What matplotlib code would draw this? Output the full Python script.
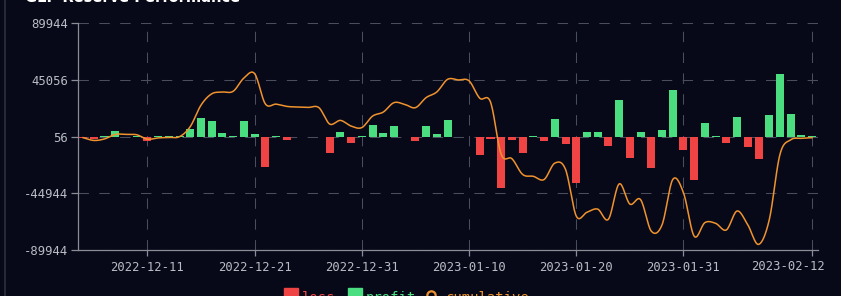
import numpy as np
import pandas as pd
import matplotlib
matplotlib.use('Agg')
import matplotlib.pyplot as plt
from matplotlib.lines import Line2D
from matplotlib.patches import Rectangle

# Fechas (falta un dia entre el 21 y el 30 de enero)
fechas = pd.date_range('2022-12-05', '2023-02-12').drop(pd.Timestamp('2023-01-25'))
fechas = [f.strftime('%Y-%m-%d') for f in fechas]

# Resultado diario (profit > 0, loss < 0)
resultado = [
    -800, -1600, 500, 4500, -400, 400, -3500, 600, 600, 600,
    6300, 15100, 12400, 3200, 300, 12100, 2100, -23800, 500, -2700,
    -500, -500, -400, -13200, 3600, -4800, 400, 9500, 2900, 8700,
    -500, -3500, 8700, 2100, 12900, -500, -500, -14600, -2100, -41000,
    -2700, -13200, 400, -3500, 14300, -5600, -37000, 3600, 3600, -7400,
    29000, -16700, 4000, -24900, 5000, 37000, -10600, -34400, 10600, 400,
    -4800, 15600, -8300, -18000, 16900, 49400, 17700, 1000, 600,
]

# Acumulado
acumulado = [
    -800, -3000, -1800, 1800, 1800, 1500, -2000, -1000, -600, 0,
    8000, 25000, 34000, 35400, 36000, 46500, 50000, 26000, 25800, 24000,
    23500, 23200, 23000, 10000, 12900, 8400, 7200, 16300, 19500, 27000,
    25600, 23000, 31000, 35500, 45500, 45000, 44300, 30500, 27500, -14000,
    -17500, -30000, -31500, -34000, -21000, -26000, -63000, -60000, -57500, -65500,
    -37500, -53500, -50000, -75000, -70000, -34000, -44500, -79000, -68200, -68800,
    -74000, -59000, -70000, -85500, -66000, -14000, -2500, -1300, -800,
]

marcas_y = [-89944, -44944, 56, 45056, 89944]
idx_marcas_x = [6, 16, 26, 36, 46, 56]

fondo = '#070919'
rojo = '#f04444'
verde = '#4ade80'
naranja = '#f0932e'
gris_rejilla = '#4a4e5c'
gris_eje = '#8a8d96'
gris_texto = '#b9bcc4'
mono = 'DejaVu Sans Mono'


def catmull_rom(x, y, n=16):
    x = np.asarray(x, float)
    y = np.asarray(y, float)
    px = np.concatenate([[2 * x[0] - x[1]], x, [2 * x[-1] - x[-2]]])
    py = np.concatenate([[2 * y[0] - y[1]], y, [2 * y[-1] - y[-2]]])
    t = np.linspace(0, 1, n, endpoint=False)
    xs, ys = [], []
    for i in range(1, len(px) - 2):
        for arr, out in ((px, xs), (py, ys)):
            p0, p1, p2, p3 = arr[i - 1], arr[i], arr[i + 1], arr[i + 2]
            out.append(0.5 * ((2 * p1) + (-p0 + p2) * t
                              + (2 * p0 - 5 * p1 + 4 * p2 - p3) * t ** 2
                              + (-p0 + 3 * p1 - 3 * p2 + p3) * t ** 3))
    xs.append([x[-1]])
    ys.append([y[-1]])
    return np.concatenate(xs), np.concatenate(ys)


fig = plt.figure(figsize=(8.41, 2.96), dpi=100, facecolor=fondo)
ax = fig.add_axes([77.7 / 841, 46 / 296, (817.5 - 77.7) / 841, (250 - 23.3) / 296])
ax.set_facecolor(fondo)

x = np.arange(len(fechas))
colores = [verde if v >= 0 else rojo for v in resultado]
ax.bar(x, resultado, width=0.75, color=colores, zorder=3)

xs, ys = catmull_rom(x, acumulado)
ax.plot(xs, ys, color=naranja, lw=1.1, zorder=4)

ax.set_xlim(-0.5, len(fechas) - 0.5)
ax.set_ylim(-89944, 89944)
ax.set_yticks(marcas_y)
ax.set_yticklabels([str(v) for v in marcas_y])
ax.set_xticks(idx_marcas_x + [len(fechas) - 1])
ax.set_xticklabels([fechas[i] for i in idx_marcas_x] + [''])
ax.annotate(fechas[-1], xy=(len(fechas) - 0.5, 0), xycoords=('data', 'axes fraction'),
            xytext=(5.5, -7.5), textcoords='offset points', ha='right', va='top',
            color=gris_texto, fontsize=8.8, family=mono)

rejilla = dict(color=gris_rejilla, lw=0.75, ls=(0, (10, 10)), zorder=1)
for v in marcas_y:
    ax.axhline(v, **rejilla)
for i in idx_marcas_x + [len(fechas) - 1, len(fechas) - 0.5]:
    ax.axvline(i, **rejilla)

for lado in ['top', 'right']:
    ax.spines[lado].set_visible(False)
for lado in ['left', 'bottom']:
    ax.spines[lado].set_color(gris_eje)
    ax.spines[lado].set_linewidth(0.9)
ax.tick_params(axis='y', colors=gris_eje, labelcolor=gris_texto, length=5, width=0.9,
               pad=2, labelsize=8.8)
ax.tick_params(axis='x', colors=gris_eje, labelcolor=gris_texto, length=4, width=0.9,
               pad=4, labelsize=8.8)
for lab in ax.get_xticklabels() + ax.get_yticklabels():
    lab.set_family(mono)

# Titulo (cortado arriba en la imagen original)
fig.text(25 / 841, 1 - 2 / 296, 'GLP Reserve Performance', color='white',
         fontsize=10.5, fontweight='bold', ha='left', va='baseline')

# Borde izquierdo del panel
fig.add_artist(Line2D([4.5 / 841, 4.5 / 841], [0, 1], color='#2c2f3c', lw=1.2))

# Leyenda (cortada abajo)
yb = -6 / 296
fig.add_artist(Rectangle((284 / 841, yb), 14 / 841, 14 / 296, color=rojo))
fig.text(302 / 841, yb, 'loss', color=rojo, fontsize=10, family=mono, va='baseline')
fig.add_artist(Rectangle((348 / 841, yb), 14 / 841, 14 / 296, color=verde))
fig.text(366 / 841, yb, 'profit', color=verde, fontsize=10, family=mono, va='baseline')
fig.add_artist(Line2D([431 / 841], [(296 - 294.5) / 296], marker='o', ms=6,
                      mfc=fondo, mec=naranja, mew=1.6, ls='none'))
fig.text(446 / 841, yb, 'cumulative', color=naranja, fontsize=10, family=mono,
         va='baseline')

fig.savefig('out.png', dpi=100, facecolor=fondo)
